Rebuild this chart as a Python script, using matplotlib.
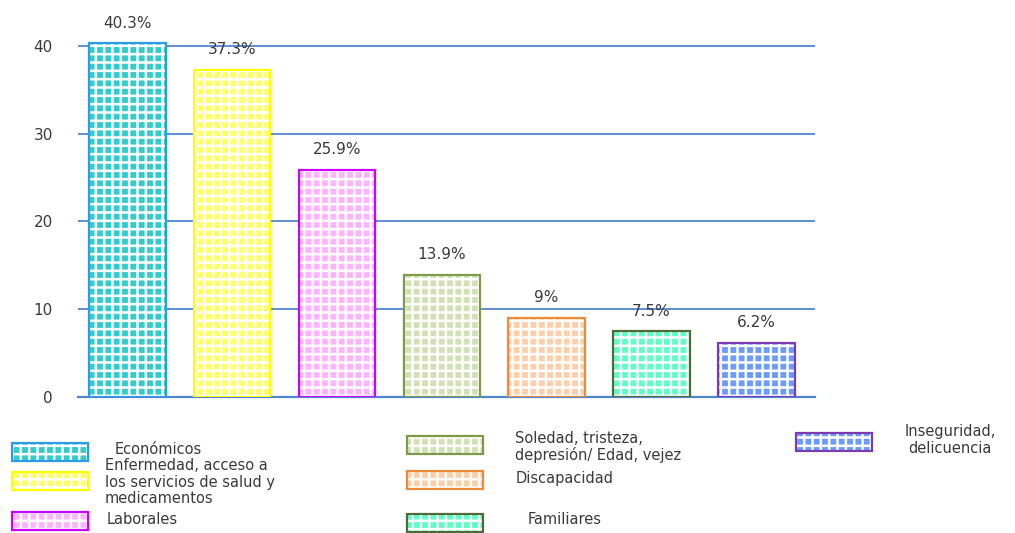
import numpy as np
import matplotlib
matplotlib.use("Agg")
import matplotlib.pyplot as plt
from matplotlib.patches import Rectangle

# ------------------------
# Data
# ------------------------
categories = [
    "Económicos",
    "Enfermedad, acceso a\nlos servicios de salud y\nmedicamentos",
    "Laborales",
    "Soledad, tristeza,\ndepresión/ Edad, vejez",
    "Discapacidad",
    "Familiares",
    "Inseguridad,\ndelicuencia",
]
values = [40.3, 37.3, 25.9, 13.9, 9, 7.5, 6.2]

fill_colors = ["#33CCCC", "#FFFF66", "#FFB3FF", "#D3E0B6", "#FBCFAA", "#5CFFC4", "#6B9BFF"]
edge_colors = ["#2E9BE8", "#FFFF00", "#CC00FF", "#7E9A48", "#EE8A3A", "#4F6A38", "#7A3CB0"]

grid_blue = "#4F86D0"
text_col = "#3A3A3A"

plt.rcParams["hatch.linewidth"] = 1.8

W, H = 1015, 533
fig = plt.figure(figsize=(W / 100, H / 100), dpi=100)
ax = fig.add_axes([78 / W, 136 / H, (815 - 78) / W, 395 / H])

x = np.arange(len(values))
bar_w = 0.73

# hatched fill, then the coloured outline on top
ax.bar(x, values, bar_w, color=fill_colors, edgecolor="white", hatch="++",
       linewidth=0, zorder=3)
ax.bar(x, values, bar_w, fill=False, edgecolor=edge_colors, linewidth=1.6, zorder=4)

for xi, v in zip(x, values):
    ax.annotate(f"{v:g}%", (xi, v), xytext=(0, 9), textcoords="offset points",
                ha="center", va="bottom", fontsize=11, color=text_col)

ax.set_xlim(-0.47, 6.56)
ax.set_ylim(0, 45)
ax.set_yticks([0, 10, 20, 30, 40])
ax.set_xticks([])
ax.tick_params(axis="y", length=0, pad=18, labelsize=11, labelcolor=text_col)
ax.grid(axis="y", color=grid_blue, linewidth=1.3, zorder=0)
for side in ["left", "right", "top"]:
    ax.spines[side].set_visible(False)
ax.spines["bottom"].set_color(grid_blue)
ax.spines["bottom"].set_linewidth(1.6)

# ------------------------
# Legend (drawn by hand, three loose columns)
# ------------------------
swatches = [(12, 443), (12, 472), (12, 512), (407, 436), (407, 471), (407, 514), (796, 433)]
label_pos = [(115, 449, "left"), (105, 482, "left"), (107, 520, "left"),
             (515, 447, "left"), (516, 478, "left"), (528, 519, "left"),
             (950, 440, "center")]

for i, ((sx, sy), (lx, ly, ha)) in enumerate(zip(swatches, label_pos)):
    r = Rectangle((sx / W, 1 - (sy + 18) / H), 76 / W, 18 / H, transform=fig.transFigure,
                  facecolor=fill_colors[i], edgecolor="white", hatch="++", linewidth=0)
    fig.add_artist(r)
    fig.add_artist(Rectangle((sx / W, 1 - (sy + 18) / H), 76 / W, 18 / H,
                             transform=fig.transFigure, fill=False,
                             edgecolor=edge_colors[i], linewidth=1.6))
    fig.text(lx / W, 1 - ly / H, categories[i], ha=ha, va="center", fontsize=10.5,
             color=text_col, linespacing=1.15, multialignment="center" if ha == "center" else "left")

fig.savefig("out.png", dpi=100)
